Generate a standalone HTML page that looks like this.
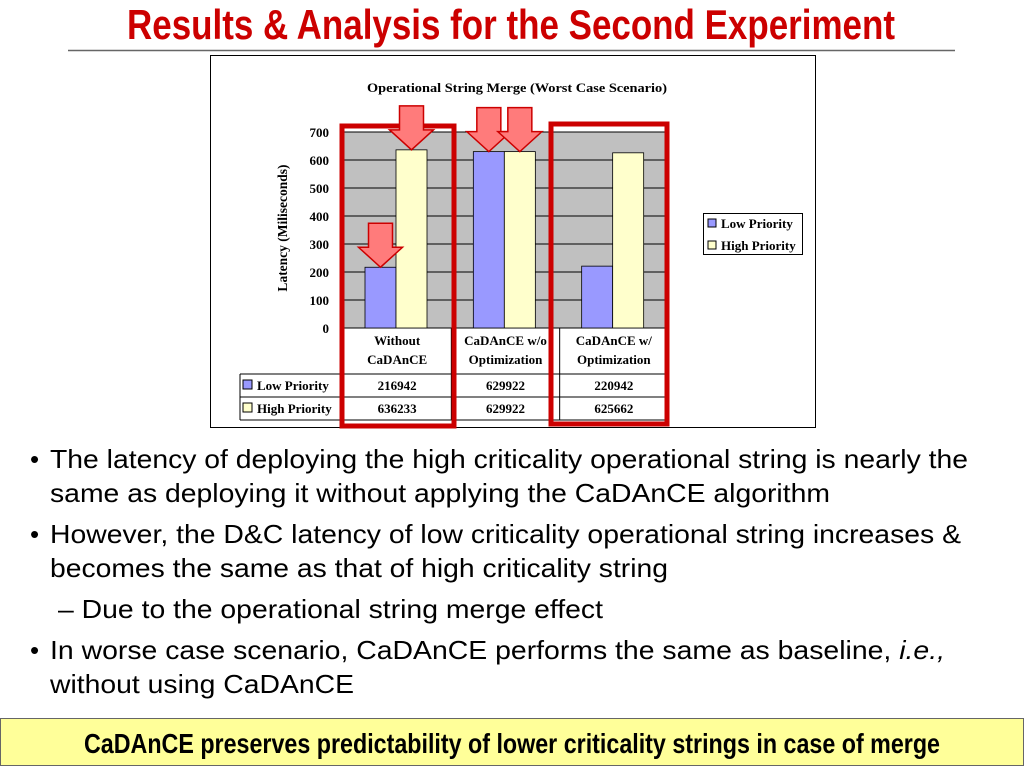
<!DOCTYPE html>
<html><head><meta charset="utf-8">
<style>
body{margin:0;width:1024px;height:768px;overflow:hidden;background:#fff;font-family:"Liberation Sans",Arial,sans-serif;position:relative}
.b{position:absolute;font-size:24px;color:#000;white-space:nowrap;line-height:34px}
.b span{display:inline-block;transform-origin:0 50%}
</style></head><body>
<svg width="1024" height="768" style="position:absolute;left:0;top:0">
<text x="511" y="39" text-anchor="middle" font-family="Liberation Sans, Arial, sans-serif" font-weight="bold" font-size="42" fill="#cc0000" textLength="768" lengthAdjust="spacingAndGlyphs">Results &amp; Analysis for the Second Experiment</text>
<line x1="68" y1="50.5" x2="955" y2="50.5" stroke="#666" stroke-width="1.5"/>
<g id="chart"></g>
<rect x="0.5" y="718.5" width="1023" height="47" fill="#ffff99" stroke="#666"/>
<text x="512" y="753" text-anchor="middle" font-family="Liberation Sans, Arial, sans-serif" font-weight="bold" font-size="28" fill="#000" textLength="856" lengthAdjust="spacingAndGlyphs">CaDAnCE preserves predictability of lower criticality strings in case of merge</text>
<g font-family="Liberation Sans, Arial, sans-serif" font-size="26" fill="#000">
<text x="30" y="468">•</text>
<text x="50" y="468" textLength="918" lengthAdjust="spacingAndGlyphs">The latency of deploying the high criticality operational string is nearly the</text>
<text x="50" y="502" textLength="780" lengthAdjust="spacingAndGlyphs">same as deploying it without applying the CaDAnCE algorithm</text>
<text x="30" y="543">•</text>
<text x="50" y="543" textLength="911" lengthAdjust="spacingAndGlyphs">However, the D&amp;C latency of low criticality operational string increases &amp;</text>
<text x="50" y="577" textLength="618" lengthAdjust="spacingAndGlyphs">becomes the same as that of high criticality string</text>
<text x="58" y="618" textLength="545" lengthAdjust="spacingAndGlyphs">– Due to the operational string merge effect</text>
<text x="30" y="659">•</text>
<text x="50" y="659" textLength="895" lengthAdjust="spacingAndGlyphs">In worse case scenario, CaDAnCE performs the same as baseline, <tspan font-style="italic">i.e.,</tspan></text>
<text x="50" y="693" textLength="304" lengthAdjust="spacingAndGlyphs">without using CaDAnCE</text>
</g>
</svg>
<script>
const categories=[["Without","CaDAnCE"],["CaDAnCE w/o","Optimization"],["CaDAnCE w/","Optimization"]];
const lowPriority=[216942,629922,220942];
const highPriority=[636233,629922,625662];
const seriesNames=["Low Priority","High Priority"];
const yTicks=[0,100,200,300,400,500,600,700];
const NS="http://www.w3.org/2000/svg";
const g=document.getElementById('chart');
function el(t,a,p){const e=document.createElementNS(NS,t);for(const k in a)e.setAttribute(k,a[k]);(p||g).appendChild(e);return e;}
const X0=343,X1=668,Y0=328,Y1=132,cw=(X1-X0)/categories.length;
const y=v=>Y0-(v/1000)/700*(Y0-Y1);
const cx=i=>X0+cw*i;
const F="Liberation Serif, Times New Roman, serif";
const FS=13;
let e;
e=el('rect',{x:210.5,y:55.5,width:605,height:372,fill:'#fff',stroke:'#000'});

e=el('text',{x:517,y:92,'text-anchor':'middle','font-family':F,'font-weight':'bold','font-size':13,textLength:300,lengthAdjust:'spacingAndGlyphs'});e.textContent="Operational String Merge (Worst Case Scenario)";

e=el('rect',{x:X0,y:Y1,width:X1-X0,height:Y0-Y1,fill:'#c0c0c0',stroke:'#808080'});

yTicks.forEach(t=>{
 const l=el('line',{x1:X0,x2:X1,y1:y(t*1000),y2:y(t*1000),stroke:'#000','stroke-width':1});
 
 const tx=el('text',{x:329,y:y(t*1000)+5,'text-anchor':'end','font-family':F,'font-weight':'bold','font-size':FS});tx.textContent=t;
 
});
e=el('text',{transform:'translate(287,228) rotate(-90)','text-anchor':'middle','font-family':F,'font-weight':'bold','font-size':13.5});e.textContent="Latency (Miliseconds)";

const bw=31;
categories.forEach((c,i)=>{
 const b1=el('rect',{x:cx(i)+22,y:y(lowPriority[i]),width:bw,height:Y0-y(lowPriority[i]),fill:'#9999ff',stroke:'#000','stroke-width':0.8});
 
 const b2=el('rect',{x:cx(i)+22+bw,y:y(highPriority[i]),width:bw,height:Y0-y(highPriority[i]),fill:'#ffffcc',stroke:'#000','stroke-width':0.8});
 
 c.forEach((s,j)=>{const t=el('text',{x:cx(i)+cw/2,y:345+j*19,'text-anchor':'middle','font-family':F,'font-weight':'bold','font-size':FS});t.textContent=s;
 });
 [lowPriority,highPriority].forEach((arr,r)=>{const t=el('text',{x:cx(i)+cw/2,y:390+r*23,'text-anchor':'middle','font-family':F,'font-weight':'bold','font-size':FS});t.textContent=arr[i];
 });
});
[[240,374,X1,374],[240,397,X1,397],[240,420,X1,420],[240,374,240,420]].forEach(a=>{const l=el('line',{x1:a[0],y1:a[1],x2:a[2],y2:a[3],stroke:'#000'});});
for(let i=0;i<=categories.length;i++){const l=el('line',{x1:cx(i),y1:Y0,x2:cx(i),y2:420,stroke:'#000'});}
seriesNames.forEach((n,r)=>{
 const sw=el('rect',{x:243,y:380+r*23,width:9,height:9,fill:r?'#ffffcc':'#9999ff',stroke:'#000'});
 
 const t=el('text',{x:257,y:390+r*23,'font-family':F,'font-weight':'bold','font-size':FS});t.textContent=n;
 
});
e=el('rect',{x:703.5,y:213.5,width:99,height:41,fill:'#fff',stroke:'#000'});

seriesNames.forEach((n,r)=>{
 const sw=el('rect',{x:708,y:219+r*22,width:8,height:8,fill:r?'#ffffcc':'#9999ff',stroke:'#000'});
 
 const t=el('text',{x:721,y:228+r*22,'font-family':F,'font-weight':'bold','font-size':FS});t.textContent=n;
 
});
[[342,126,112,300],[551,124,116,300]].forEach(a=>{const r=el('rect',{x:a[0],y:a[1],width:a[2],height:a[3],fill:'none',stroke:'#cc0000','stroke-width':5});});
function arrow(xc,tip){const w=24,h=24,hw=22,hh=20;
 const p=`${xc-w/2},${tip-hh-h} ${xc+w/2},${tip-hh-h} ${xc+w/2},${tip-hh} ${xc+hw},${tip-hh} ${xc},${tip} ${xc-hw},${tip-hh} ${xc-w/2},${tip-hh}`;
 const a=el('polygon',{points:p,fill:'#ff7b7b',stroke:'#cc0000','stroke-width':1.5});
 }
arrow(cx(0)+22+bw/2,y(lowPriority[0]));
arrow(cx(0)+22+bw*1.5,y(highPriority[0]));
arrow(cx(1)+22+bw/2,y(lowPriority[1]));
arrow(cx(1)+22+bw*1.5,y(highPriority[1]));
</script>
</body></html>
